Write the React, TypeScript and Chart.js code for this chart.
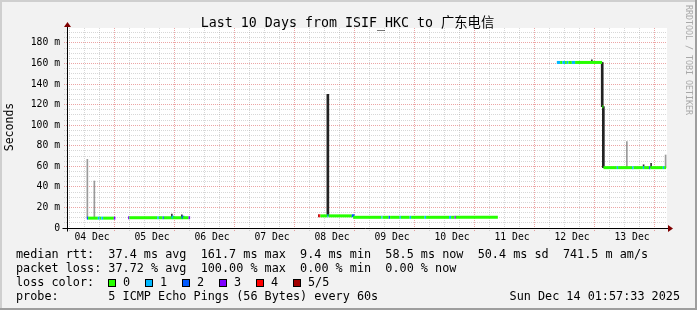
import React, { useEffect, useRef } from 'react';
import { Chart, registerables } from 'chart.js';

Chart.register(...registerables);

// ---------- text ----------
const TITLE = 'Last 10 Days from ISIF_HKC to 广东电信';
const Y_TITLE = 'Seconds';
const WATERMARK = 'RRDTOOL / TOBI OETIKER';
const RTT_LEGEND = ['37.4 ms avg', '161.7 ms max', '9.4 ms min', '58.5 ms now', '50.4 ms sd', '741.5 m am/s'];
const LOSS_LEGEND = ['37.72 % avg', '100.00 % max', '0.00 % min', '0.00 % now'];
const PROBE_TEXT = '5 ICMP Echo Pings (56 Bytes) every 60s';
const DATE_STAMP = 'Sun Dec 14 01:57:33 2025';
const LOSS_LABELS = ['0', '1', '2', '3', '4', '5/5'];
const LOSS_COLORS = ['#26ff00', '#00b8ff', '#0059ff', '#7e00ff', '#ff0000', '#a10000'];

// ---------- axes (x in hours since 04 Dec 00:00) ----------
const X_MIN_HOUR = 1.96;
const X_MAX_HOUR = 241.96;
const X_LABEL_HOURS = [12, 36, 60, 84, 108, 132, 156, 180, 204, 228];
const X_LABELS = ['04 Dec', '05 Dec', '06 Dec', '07 Dec', '08 Dec', '09 Dec', '10 Dec', '11 Dec', '12 Dec', '13 Dec'];
const Y_MAX_MS = 194.5;
const Y_LABEL_VALUES = [0, 20, 40, 60, 80, 100, 120, 140, 160, 180];
const Y_LABELS = ['0', '20 m', '40 m', '60 m', '80 m', '100 m', '120 m', '140 m', '160 m', '180 m'];

// ---------- median rtt (ms) with loss count; null = no data ----------
const MEDIAN_HOURS = [
  9.9, 10.4, 14.3, 15.0, 15.7, 16.4, 20.7, 21.3, 21.4,
  26.4, 26.9, 38.1, 38.7, 40.2, 40.7, 43.8, 44.3, 47.8, 48.3, 50.6, 51.2, 51.3,
  102.4, 102.8, 103.3, 106.1, 106.6, 115.9, 116.4, 127.7, 128.2, 130.6, 131.2, 135.0, 135.5, 139.0, 139.6, 145.0, 145.6, 154.8, 155.6, 157.0, 157.5, 174.3, 174.4,
  197.9, 199.2, 200.1, 201.2, 201.9, 202.5, 203.9, 205.2, 216.0, 216.05,
  216.1, 216.5, 216.52,
  216.55, 221.9, 222.4, 228.0, 228.6, 232.3, 232.8, 234.8, 235.3, 240.3, 240.8, 241.6,
];
const MEDIAN_MS = [
  9.6, 9.6, 9.6, 9.6, 9.6, 9.6, 9.6, 9.6, null,
  10, 10, 10, 10, 10, 10, 10.5, 10, 10.5, 10, 10, 10, null,
  11.8, 11.8, 11.8, 11.8, 11.8, 11.8, 10.4, 10.4, 10.4, 10.4, 10.4, 10.4, 10.4, 10.4, 10.4, 10.4, 10.4, 10.4, 10.4, 10.4, 10.4, 10.4, null,
  161, 161, 161, 161, 161, 161, 161, 161, 161, null,
  118, 118, null,
  58.7, 58.7, 58.7, 58.7, 58.7, 58.7, 58.7, 58.7, 58.7, 58.7, 58.7, 58.7,
];
const MEDIAN_LOSS = [
  2, 0, 1, 0, 1, 0, 3, 3, 0,
  3, 0, 1, 0, 2, 0, 1, 0, 2, 0, 3, 3, 0,
  5, 4, 0, 1, 0, 2, 0, 1, 0, 2, 0, 1, 0, 1, 0, 1, 0, 1, 0, 3, 0, 0, 0,
  1, 0, 1, 0, 1, 0, 1, 0, 0, 0,
  0, 0, 0,
  0, 1, 0, 1, 0, 1, 0, 2, 0, 1, 0, 0,
];

// ---------- smoke (ping spread, ms) ----------
const SMOKE_LIGHT_HOURS = [10.1, 12.9, 225.9, 241.4];
const SMOKE_LIGHT_LOW = [9.6, 9.6, 58.7, 58.7];
const SMOKE_LIGHT_HIGH = [66.8, 45.7, 84, 71];
const SMOKE_DARK_HOURS = [106.3, 216.05, 216.5];
const SMOKE_DARK_LOW = [11.8, 118, 58.7];
const SMOKE_DARK_HIGH = [130, 161, 118];
const SMOKE_FINE_HOURS = [43.9, 47.9, 211.9, 232.6, 235.6];
const SMOKE_FINE_LOW = [10, 10, 161, 58.7, 58.7];
const SMOKE_FINE_HIGH = [13.5, 12.8, 163.5, 61.5, 63];

const MONO = "'DejaVu Sans Mono', monospace";
const MAJOR_GRID = 'rgba(210,40,40,0.42)';
const MINOR_GRID = 'rgba(150,150,150,0.38)';

const X_GRID_HOURS = Array.from({ length: 40 }, (_, i) => (i + 1) * 6);
const Y_GRID_MS = Array.from({ length: 39 }, (_, i) => i * 5);

const framePlugin = {
  id: 'rrdFrame',
  beforeDraw(chart: any) {
    const { ctx, width, height, chartArea } = chart;
    ctx.save();
    ctx.fillStyle = '#f2f2f2';
    ctx.fillRect(0, 0, width, height);
    ctx.fillStyle = '#cfcfcf';
    ctx.fillRect(0, 0, width, 2);
    ctx.fillRect(0, 0, 2, height);
    ctx.fillStyle = '#9e9e9e';
    ctx.fillRect(0, height - 2, width, 2);
    ctx.fillRect(width - 2, 0, 2, height);
    ctx.fillStyle = '#ffffff';
    ctx.fillRect(chartArea.left, chartArea.top, chartArea.right - chartArea.left, chartArea.bottom - chartArea.top);
    ctx.restore();
  },
  afterDraw(chart: any) {
    const { ctx, chartArea } = chart;
    const L = Math.round(chartArea.left) + 0.5;
    const B = Math.round(chartArea.bottom) + 0.5;
    const R = Math.round(chartArea.right);
    ctx.save();
    // axes
    ctx.strokeStyle = '#000';
    ctx.lineWidth = 1;
    ctx.beginPath();
    ctx.moveTo(L - 5, B);
    ctx.lineTo(R + 2, B);
    ctx.moveTo(L, B + 3);
    ctx.lineTo(L, chartArea.top - 4);
    ctx.stroke();
    ctx.fillStyle = '#7f0000';
    ctx.beginPath();
    ctx.moveTo(R + 1, B - 3.5);
    ctx.lineTo(R + 6, B);
    ctx.lineTo(R + 1, B + 3.5);
    ctx.closePath();
    ctx.fill();
    ctx.beginPath();
    ctx.moveTo(L - 3.5, chartArea.top - 1);
    ctx.lineTo(L, chartArea.top - 6);
    ctx.lineTo(L + 3.5, chartArea.top - 1);
    ctx.closePath();
    ctx.fill();

    // title
    ctx.fillStyle = '#000';
    ctx.font = `13.3px ${MONO}, 'Noto Sans CJK SC'`;
    ctx.textAlign = 'center';
    ctx.textBaseline = 'alphabetic';
    ctx.fillText(TITLE, 347.5, 26.5);

    // y title
    ctx.save();
    ctx.font = `11.5px ${MONO}`;
    ctx.translate(10.5, (chartArea.top + chartArea.bottom) / 2 - 1);
    ctx.rotate(-Math.PI / 2);
    ctx.textAlign = 'center';
    ctx.textBaseline = 'middle';
    ctx.fillText(Y_TITLE, 0, 0);
    ctx.restore();

    // legend
    ctx.font = `11.8px ${MONO}`;
    ctx.textAlign = 'left';
    ctx.textBaseline = 'alphabetic';
    const x0 = 16;
    ctx.fillText('median rtt:  ' + RTT_LEGEND.join('  '), x0, 257.7);
    ctx.fillText('packet loss: ' + LOSS_LEGEND.join('  '), x0, 271.7);
    ctx.fillText('loss color:', x0, 285.7);
    ctx.fillText('probe:       ' + PROBE_TEXT, x0, 299.7);
    ctx.textAlign = 'right';
    ctx.fillText(DATE_STAMP, 680, 299.7);
    ctx.textAlign = 'left';
    LOSS_LABELS.forEach((lab, i) => {
      const bx = 108 + i * 37;
      ctx.fillStyle = LOSS_COLORS[i];
      ctx.fillRect(bx, 279, 8, 8);
      ctx.strokeStyle = '#000';
      ctx.strokeRect(bx + 0.5, 279.5, 7, 7);
      ctx.fillStyle = '#000';
      ctx.fillText(lab, bx + 15, 285.7);
    });

    // watermark
    ctx.save();
    ctx.fillStyle = '#a8a8a8';
    ctx.font = `8.3px ${MONO}`;
    ctx.translate(688, 5);
    ctx.rotate(Math.PI / 2);
    ctx.textAlign = 'left';
    ctx.textBaseline = 'middle';
    ctx.fillText(WATERMARK, 0, 0);
    ctx.restore();

    ctx.restore();
  },
};

function gridColorX(c: any) {
  const v = c.tick ? c.tick.value : null;
  if (v === null) return 'rgba(0,0,0,0)';
  return v % 24 === 0 ? MAJOR_GRID : MINOR_GRID;
}
function gridColorY(c: any) {
  const v = c.tick ? c.tick.value : null;
  if (v === null || v === 0) return 'rgba(0,0,0,0)';
  return v % 20 === 0 ? MAJOR_GRID : MINOR_GRID;
}

function smokeSet(label: string, hours: number[], low: number[], high: number[], color: string, thickness: number, order: number) {
  return {
    type: 'bar',
    label,
    data: hours.map((h, i) => ({ x: h, y: [low[i], high[i]] })),
    backgroundColor: color,
    borderWidth: 0,
    barThickness: thickness,
    grouped: false,
    order,
  } as any;
}

export default function App() {
  const ref = useRef<HTMLCanvasElement | null>(null);
  useEffect(() => {
    if (!ref.current) return;
    const median = MEDIAN_HOURS.map((h, i) => ({ x: h, y: MEDIAN_MS[i] }));
    const chart = new Chart(ref.current, {
      type: 'line',
      data: {
        datasets: [
          {
            type: 'line',
            label: 'median',
            data: median as any,
            stepped: true,
            borderWidth: 3,
            borderCapStyle: 'butt',
            pointRadius: 0,
            spanGaps: false,
            tension: 0,
            borderColor: LOSS_COLORS[0],
            segment: {
              borderColor: (c: any) => LOSS_COLORS[MEDIAN_LOSS[c.p0DataIndex]] || LOSS_COLORS[0],
            },
            order: 0,
          } as any,
          smokeSet('smoke dark', SMOKE_DARK_HOURS, SMOKE_DARK_LOW, SMOKE_DARK_HIGH, '#222222', 2, 1),
          smokeSet('smoke fine', SMOKE_FINE_HOURS, SMOKE_FINE_LOW, SMOKE_FINE_HIGH, '#333333', 1, 2),
          smokeSet('smoke light', SMOKE_LIGHT_HOURS, SMOKE_LIGHT_LOW, SMOKE_LIGHT_HIGH, '#9a9a9a', 1, 3),
        ],
      },
      options: {
        responsive: false,
        maintainAspectRatio: false,
        animation: false,
        devicePixelRatio: 1,
        events: [],
        layout: { padding: { top: 28, right: 30, bottom: 0, left: 0 } },
        plugins: {
          legend: { display: false },
          tooltip: { enabled: false },
          title: { display: false },
        },
        scales: {
          x: {
            type: 'linear',
            min: X_MIN_HOUR,
            max: X_MAX_HOUR,
            offset: false,
            afterBuildTicks: (s: any) => {
              s.ticks = X_GRID_HOURS.map((v) => ({ value: v }));
            },
            afterFit: (s: any) => {
              s.height = 82;
            },
            ticks: {
              autoSkip: false,
              maxRotation: 0,
              minRotation: 0,
              padding: 1,
              color: '#000',
              font: { family: MONO, size: 9.75 },
              callback: (v: any) => {
                const i = X_LABEL_HOURS.indexOf(Number(v));
                return i >= 0 ? X_LABELS[i] : '';
              },
            },
            grid: {
              color: gridColorX,
              tickColor: gridColorX,
              tickLength: 3,
              tickBorderDash: [1, 1],
              lineWidth: 1,
            },
            border: { display: false, dash: [1, 1] },
          },
          y: {
            type: 'linear',
            min: 0,
            max: Y_MAX_MS,
            afterBuildTicks: (s: any) => {
              s.ticks = Y_GRID_MS.map((v) => ({ value: v }));
            },
            afterFit: (s: any) => {
              s.width = 67;
            },
            ticks: {
              autoSkip: false,
              padding: 4,
              color: '#000',
              font: { family: MONO, size: 9.75 },
              callback: (v: any) => {
                const i = Y_LABEL_VALUES.indexOf(Number(v));
                return i >= 0 ? Y_LABELS[i] : '';
              },
            },
            grid: {
              color: gridColorY,
              tickColor: gridColorY,
              tickLength: 3,
              tickBorderDash: [1, 1],
              lineWidth: 1,
            },
            border: { display: false, dash: [1, 1] },
          },
        },
      } as any,
      plugins: [framePlugin],
    });
    return () => chart.destroy();
  }, []);
  return (
    <div style={{ position: 'fixed', left: 0, top: 0, width: 697, height: 310 }}>
      <canvas ref={ref} width={697} height={310} style={{ display: 'block', width: 697, height: 310 }} />
    </div>
  );
}
